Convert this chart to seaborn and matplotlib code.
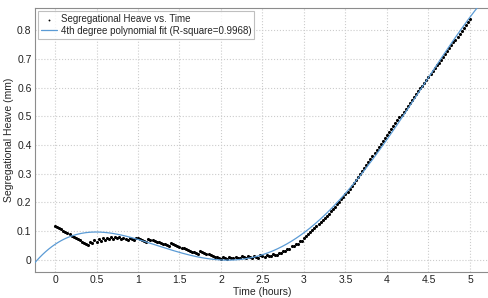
import numpy as np
import pandas as pd
import seaborn as sns
import matplotlib.pyplot as plt

time_h = [
    0.000, 0.025, 0.050, 0.075, 0.100, 0.125, 0.150, 0.175, 0.200, 0.225,
    0.250, 0.275, 0.300, 0.325, 0.350, 0.375, 0.400, 0.425, 0.450, 0.475,
    0.500, 0.525, 0.550, 0.575, 0.600, 0.625, 0.650, 0.675, 0.700, 0.725,
    0.750, 0.775, 0.800, 0.825, 0.850, 0.875, 0.900, 0.925, 0.950, 0.975,
    1.000, 1.025, 1.050, 1.075, 1.100, 1.125, 1.150, 1.175, 1.200, 1.225,
    1.250, 1.275, 1.300, 1.325, 1.350, 1.375, 1.400, 1.425, 1.450, 1.475,
    1.500, 1.525, 1.550, 1.575, 1.600, 1.625, 1.650, 1.675, 1.700, 1.725,
    1.750, 1.775, 1.800, 1.825, 1.850, 1.875, 1.900, 1.925, 1.950, 1.975,
    2.000, 2.025, 2.050, 2.075, 2.100, 2.125, 2.150, 2.175, 2.200, 2.225,
    2.250, 2.275, 2.300, 2.325, 2.350, 2.375, 2.400, 2.425, 2.450, 2.475,
    2.500, 2.525, 2.550, 2.575, 2.600, 2.625, 2.650, 2.675, 2.700, 2.725,
    2.750, 2.775, 2.800, 2.825, 2.850, 2.875, 2.900, 2.925, 2.950, 2.975,
    3.000, 3.025, 3.050, 3.075, 3.100, 3.125, 3.150, 3.175, 3.200, 3.225,
    3.250, 3.275, 3.300, 3.325, 3.350, 3.375, 3.400, 3.425, 3.450, 3.475,
    3.500, 3.525, 3.550, 3.575, 3.600, 3.625, 3.650, 3.675, 3.700, 3.725,
    3.750, 3.775, 3.800, 3.825, 3.850, 3.875, 3.900, 3.925, 3.950, 3.975,
    4.000, 4.025, 4.050, 4.075, 4.100, 4.125, 4.150, 4.175, 4.200, 4.225,
    4.250, 4.275, 4.300, 4.325, 4.350, 4.375, 4.400, 4.425, 4.450, 4.475,
    4.500, 4.525, 4.550, 4.575, 4.600, 4.625, 4.650, 4.675, 4.700, 4.725,
    4.750, 4.775, 4.800, 4.825, 4.850, 4.875, 4.900, 4.925, 4.950, 4.975,
    5.000,
]
heave_mm = [
    0.118, 0.114, 0.110, 0.106, 0.101, 0.097, 0.093, 0.089, 0.085, 0.081,
    0.077, 0.073, 0.068, 0.064, 0.060, 0.056, 0.052, 0.063, 0.059, 0.068,
    0.064, 0.072, 0.067, 0.075, 0.070, 0.078, 0.073, 0.079, 0.074, 0.080,
    0.075, 0.079, 0.074, 0.078, 0.073, 0.071, 0.076, 0.072, 0.069, 0.078,
    0.075, 0.072, 0.069, 0.066, 0.063, 0.072, 0.070, 0.068, 0.065, 0.063,
    0.061, 0.059, 0.057, 0.054, 0.052, 0.050, 0.058, 0.055, 0.052, 0.049,
    0.046, 0.043, 0.041, 0.038, 0.035, 0.032, 0.029, 0.026, 0.023, 0.020,
    0.030, 0.027, 0.025, 0.022, 0.019, 0.017, 0.014, 0.011, 0.009, 0.006,
    0.004, 0.010, 0.007, 0.004, 0.011, 0.008, 0.005, 0.011, 0.008, 0.005,
    0.012, 0.009, 0.006, 0.013, 0.010, 0.007, 0.014, 0.011, 0.008, 0.016,
    0.013, 0.010, 0.018, 0.015, 0.012, 0.021, 0.018, 0.016, 0.024, 0.023,
    0.031, 0.030, 0.039, 0.038, 0.048, 0.047, 0.057, 0.056, 0.067, 0.066,
    0.077, 0.083, 0.090, 0.096, 0.103, 0.110, 0.117, 0.124, 0.131, 0.138,
    0.145, 0.153, 0.161, 0.169, 0.177, 0.185, 0.194, 0.202, 0.211, 0.219,
    0.228, 0.237, 0.247, 0.257, 0.267, 0.277, 0.288, 0.298, 0.309, 0.319,
    0.330, 0.340, 0.351, 0.361, 0.372, 0.382, 0.393, 0.403, 0.414, 0.424,
    0.435, 0.445, 0.455, 0.465, 0.476, 0.486, 0.496, 0.506, 0.516, 0.527,
    0.537, 0.547, 0.557, 0.567, 0.577, 0.587, 0.597, 0.607, 0.617, 0.627,
    0.637, 0.647, 0.657, 0.667, 0.677, 0.687, 0.697, 0.707, 0.717, 0.727,
    0.737, 0.747, 0.757, 0.767, 0.777, 0.787, 0.798, 0.808, 0.818, 0.828,
    0.838,
]

x_ticks = [0, 0.5, 1, 1.5, 2, 2.5, 3, 3.5, 4, 4.5, 5]
x_tick_labels = ["0", "0.5", "1", "1.5", "2", "2.5", "3", "3.5", "4", "4.5", "5"]
y_ticks = [0, 0.1, 0.2, 0.3, 0.4, 0.5, 0.6, 0.7, 0.8]
y_tick_labels = ["0", "0.1", "0.2", "0.3", "0.4", "0.5", "0.6", "0.7", "0.8"]

df = pd.DataFrame({"time": time_h, "heave": heave_mm})

# 4th degree polynomial fit of the measured data
coeffs = np.polyfit(df["time"], df["heave"], 4)
fit_t = np.linspace(-0.3, 5.3, 300)
fit_df = pd.DataFrame({"time": fit_t, "heave": np.polyval(coeffs, fit_t)})

sns.set_style("white")
plt.rcParams["font.family"] = ["Liberation Sans", "DejaVu Sans"]

fig = plt.figure(figsize=(4.89, 2.98), dpi=100)
ax = fig.add_axes([35 / 489, 26 / 298, 454 / 489, 264 / 298])

sns.scatterplot(data=df, x="time", y="heave", ax=ax, color="black",
                marker="o", s=5, linewidth=0, zorder=3,
                label="Segregational Heave vs. Time")
sns.lineplot(data=fit_df, x="time", y="heave", ax=ax, color="#5b9bd5",
             linewidth=0.9, zorder=4,
             label="4th degree polynomial fit (R-square=0.9968)")

ax.set_xlim(-0.241, 5.229)
ax.set_ylim(-0.042, 0.877)
ax.set_xticks(x_ticks)
ax.set_xticklabels(x_tick_labels)
ax.set_yticks(y_ticks)
ax.set_yticklabels(y_tick_labels)
ax.tick_params(labelsize=7.5, length=0, pad=2.5, colors="#222222")
ax.grid(True, linestyle=":", color="#cccccc", linewidth=0.8)

for side in ["left", "bottom", "top"]:
    ax.spines[side].set_color("#8c8c8c")
    ax.spines[side].set_linewidth(0.8)
ax.spines["right"].set_visible(False)

ax.set_xlabel("Time (hours)", fontsize=7.5, labelpad=1)
ax.set_ylabel("Segregational Heave (mm)", fontsize=7.5, labelpad=2)

leg = ax.legend(loc="upper left", fontsize=7, frameon=True, fancybox=False,
                borderpad=0.3, labelspacing=0.15, handlelength=1.6,
                handletextpad=0.4, borderaxespad=0.35, markerscale=0.6)
leg.get_frame().set_edgecolor("#b0b0b0")
leg.get_frame().set_linewidth(0.8)

fig.savefig("out.png", dpi=100)
